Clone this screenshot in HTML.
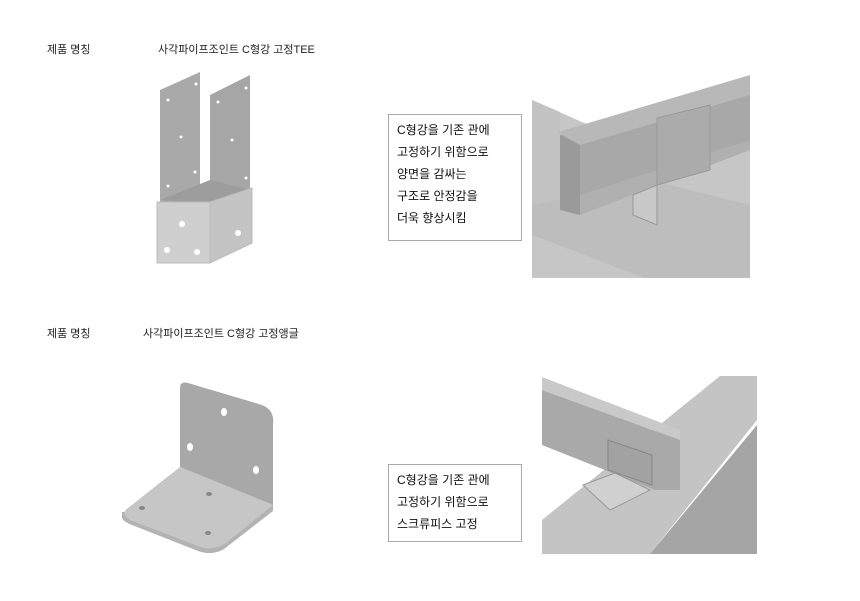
<!DOCTYPE html>
<html><head><meta charset="utf-8"><style>
body{margin:0;background:#fff;width:860px;height:601px;overflow:hidden;position:relative;font-family:"Liberation Sans","Noto Sans CJK KR",sans-serif;}
.t{position:absolute;font-size:11px;color:#222;white-space:nowrap}
.box{position:absolute;border:1px solid #aaa;background:#fff;font-size:12px;line-height:22px;padding:4px 0 0 8px;box-sizing:border-box;color:#111}
svg{position:absolute;left:0;top:0}
</style></head><body>
<svg width="860" height="601">
<!-- TEE bracket -->
<polygon points="160,90 200,72 200,190 160,208" fill="#a9a9a9"/>
<polygon points="210,95 250,75 250,190 210,205" fill="#a6a6a6"/>
<polygon points="160,200 210,180 250,190 210,205" fill="#9d9d9d"/>
<polygon points="157,202 210,202 210,263 157,263" fill="#cfcfcf" stroke="#bbb"/>
<polygon points="210,202 252,188 252,243 210,263" fill="#c4c4c4" stroke="#bbb"/>
<g fill="#fff"><circle cx="182" cy="224" r="3"/><circle cx="167" cy="250" r="3"/><circle cx="197" cy="252" r="3"/><circle cx="238" cy="233" r="3"/>
<circle cx="168" cy="100" r="1.5"/><circle cx="196" cy="84" r="1.5"/><circle cx="181" cy="137" r="1.5"/><circle cx="168" cy="186" r="1.5"/><circle cx="195" cy="172" r="1.5"/>
<circle cx="218" cy="102" r="1.5"/><circle cx="246" cy="88" r="1.5"/><circle cx="232" cy="140" r="1.5"/><circle cx="246" cy="178" r="1.5"/></g>
<!-- top right scene -->
<rect x="532" y="75" width="218" height="203" fill="#c6c6c6"/>
<polygon points="532,100 600,130 750,95 750,75 532,75" fill="#fff"/>
<polygon points="532,100 560,112 560,200 532,205" fill="#c2c2c2"/>
<polygon points="532,205 650,180 750,205 750,278 645,278 532,235" fill="#bdbdbd"/>
<polygon points="560,135 750,78 750,150 560,210" fill="#a8a8a8"/>
<polygon points="558,132 750,75 750,95 580,145" fill="#b8b8b8"/>
<polygon points="560,135 580,145 580,215 560,210" fill="#9a9a9a"/>
<polygon points="580,195 750,140 750,150 580,215" fill="#b0b0b0"/>
<polygon points="657,118 710,105 710,170 657,185" fill="#ababab" stroke="#999"/>
<polygon points="633,195 657,185 657,225 633,215" fill="#c8c8c8" stroke="#999"/>
<!-- angle bracket -->
<path d="M122,512 L122,518 Q124,522 132,525 L198,551 Q212,556 224,549 L273,511 L273,505 Z" fill="#b3b3b3"/>
<path d="M180,467 L273,505 L226,543 Q212,552 198,546 L130,520 Q120,514 128,508 Z" fill="#c6c6c6"/>
<path d="M180,388 Q180,381 188,383 L262,405 Q275,410 273,425 L273,505 L180,467 Z" fill="#a8a8a8"/>
<g fill="#fff"><ellipse cx="224" cy="412" rx="3" ry="4"/><ellipse cx="190" cy="447" rx="3" ry="4"/><ellipse cx="256" cy="470" rx="3" ry="4"/></g>
<g fill="#888"><ellipse cx="209" cy="494" rx="3" ry="2"/><ellipse cx="142" cy="508" rx="3" ry="2"/><ellipse cx="208" cy="533" rx="3" ry="2"/></g>
<!-- bottom right scene -->
<rect x="542" y="376" width="215" height="178" fill="#fff"/>
<polygon points="542,520 720,376 757,376 757,420 650,554 542,554" fill="#c4c4c4"/>
<polygon points="650,554 757,425 757,554" fill="#a5a5a5"/>
<polygon points="542,377 680,430 680,440 542,390" fill="#c9c9c9"/>
<polygon points="542,390 680,440 680,490 655,490 542,445" fill="#a9a9a9"/>
<polygon points="608,440 652,455 652,485 608,470" fill="#a2a2a2" stroke="#888"/>
<polygon points="583,485 615,473 650,490 610,510" fill="#d0d0d0" stroke="#999"/>
</svg>
<div class="t" style="left:47px;top:41px">제품 명칭</div>
<div class="t" style="left:158px;top:41px">사각파이프조인트 C형강 고정TEE</div>
<div class="t" style="left:47px;top:325px">제품 명칭</div>
<div class="t" style="left:143px;top:325px">사각파이프조인트 C형강 고정앵글</div>
<div class="box" style="left:388px;top:114px;width:134px;height:127px">C형강을 기존 관에<br>고정하기 위함으로<br>양면을 감싸는<br>구조로 안정감을<br>더욱 향상시킴</div>
<div class="box" style="left:388px;top:464px;width:134px;height:78px">C형강을 기존 관에<br>고정하기 위함으로<br>스크류피스 고정</div>
</body></html>
